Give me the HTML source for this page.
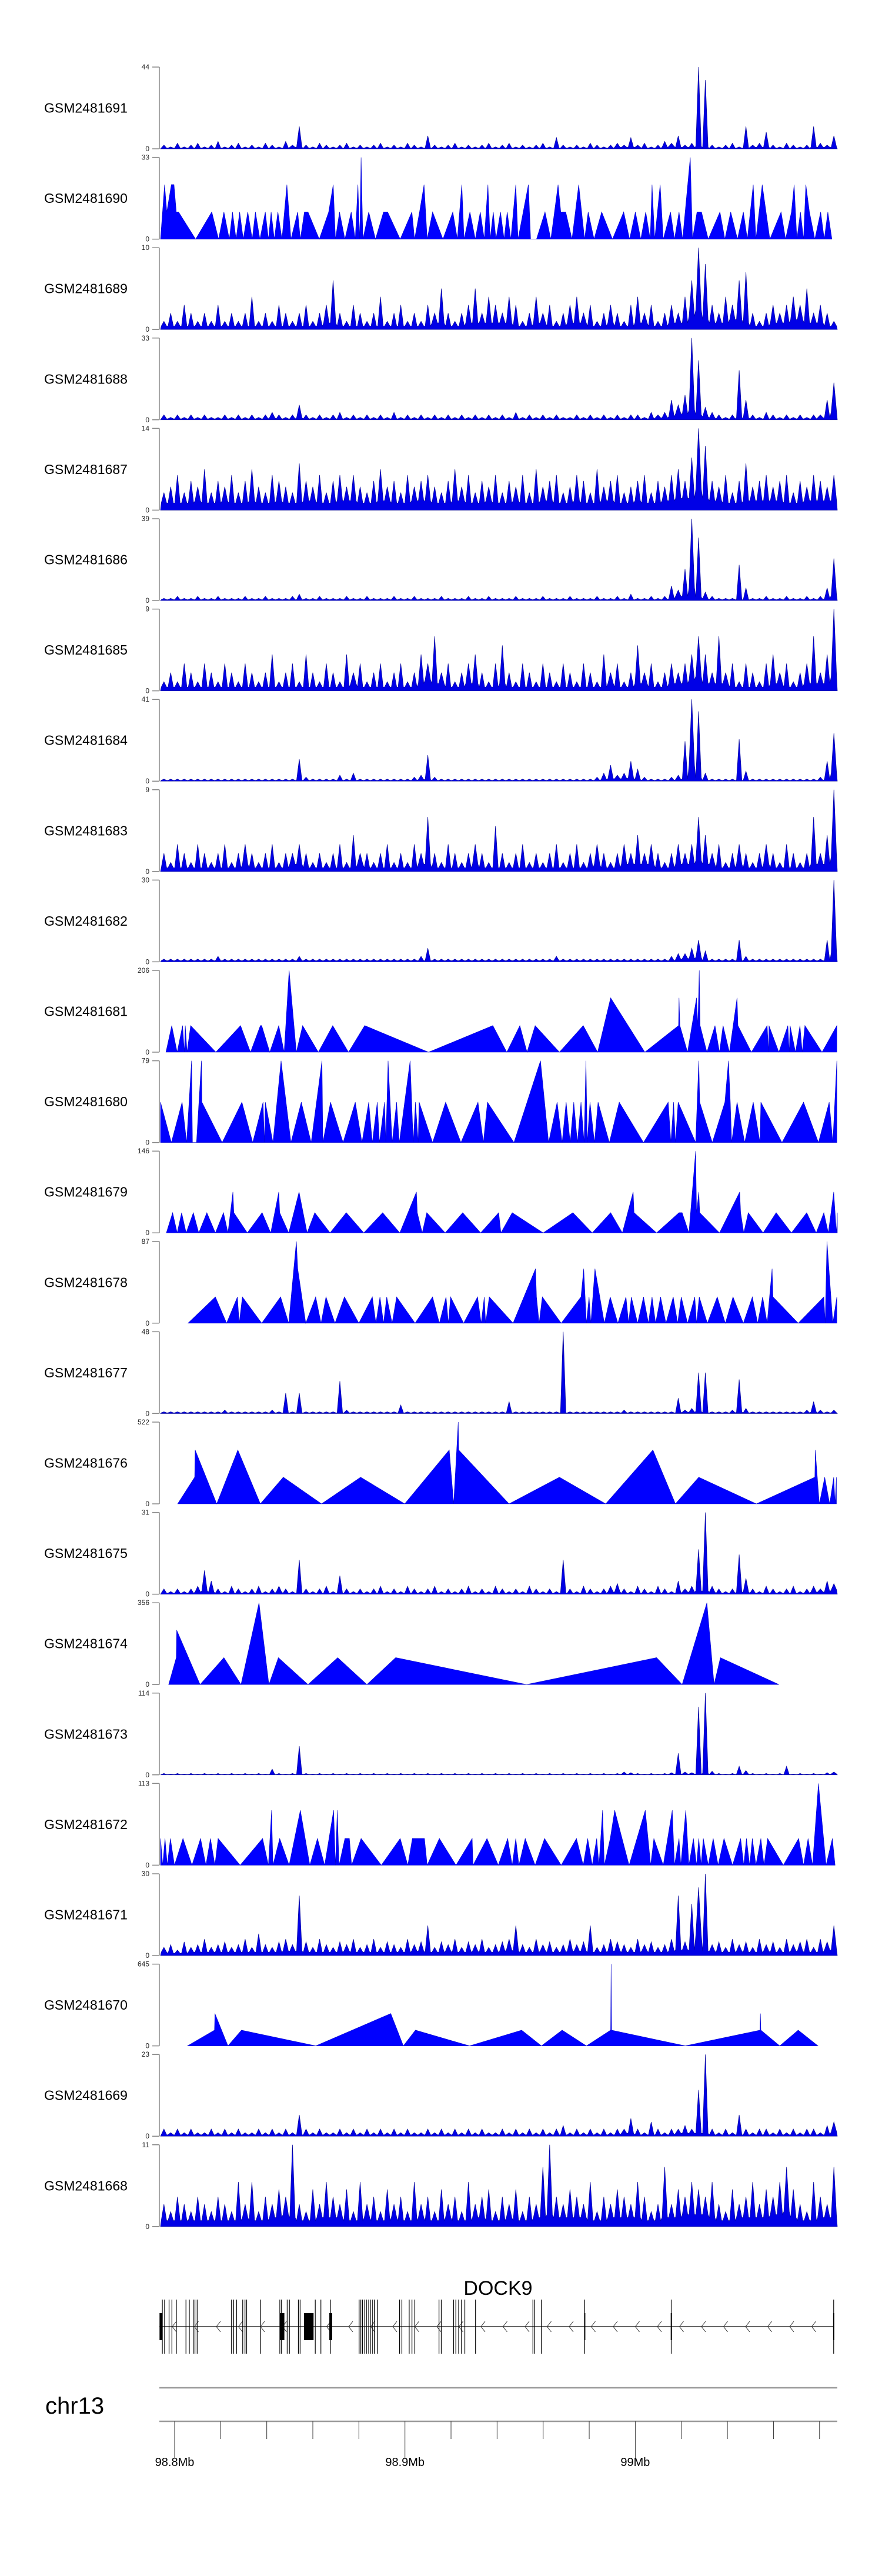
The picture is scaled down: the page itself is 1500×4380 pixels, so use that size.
<!DOCTYPE html>
<html><head><meta charset="utf-8"><title>Coverage tracks chr13 DOCK9</title>
<style>html,body{margin:0;padding:0;background:#fff}svg{display:block}text{font-family:"Liberation Sans",sans-serif}</style>
</head><body>
<svg id="chart" xmlns="http://www.w3.org/2000/svg" width="1500" height="4380" viewBox="0 0 1500 4380">
<rect x="0" y="0" width="1500" height="4380" fill="#fff"/>
<g id="tracks"></g>
<g id="gene"></g>
<g id="ruler"></g>
</svg>
<script>
// ---- data: sample names, y-axis maxima ----
const sampleNames = ["GSM2481691","GSM2481690","GSM2481689","GSM2481688","GSM2481687","GSM2481686","GSM2481685","GSM2481684","GSM2481683","GSM2481682","GSM2481681","GSM2481680","GSM2481679","GSM2481678","GSM2481677","GSM2481676","GSM2481675","GSM2481674","GSM2481673","GSM2481672","GSM2481671","GSM2481670","GSM2481669","GSM2481668"];
const yMaxLabels = [44,33,10,33,14,39,9,41,9,30,206,79,146,87,48,522,31,356,114,113,30,645,23,11];

// binned coverage (100 equal bins across region)
const v691 = [2,1,3,1,2,3,1,2,4,1,2,3,1,2,1,3,2,1,4,2,12,2,1,3,2,1,2,3,1,2,1,2,3,1,2,1,3,2,1,7,2,1,2,3,1,2,1,2,3,1,2,3,1,2,1,2,3,1,6,2,1,2,1,3,2,1,2,3,2,6,2,3,1,2,4,3,7,2,3,44,37,2,1,2,3,1,12,2,3,9,2,1,3,2,1,2,12,3,2,7];
const v689 = [1,2,1,3,2,1,2,1,3,1,2,1,2,4,1,2,1,3,2,1,2,3,1,2,3,6,2,1,3,2,1,2,4,1,2,3,1,2,1,3,2,5,2,1,2,3,5,2,4,3,2,4,3,1,2,4,2,3,1,2,3,4,2,3,1,2,3,2,1,3,4,2,3,1,2,3,2,4,6,10,8,3,2,4,3,6,7,2,1,2,3,2,3,4,3,5,2,3,2,1];
const v688 = [2,1,2,1,2,1,2,1,1,2,1,2,1,2,1,2,3,2,1,2,6,2,1,2,1,2,3,1,2,1,2,1,2,1,3,1,2,1,2,1,2,1,2,1,2,1,2,1,2,1,2,1,3,1,2,1,2,1,2,1,1,2,1,2,1,2,1,2,1,2,2,1,3,2,3,8,6,10,33,24,5,3,2,1,2,20,8,2,1,3,2,1,2,1,2,1,2,2,8,15];
const v687 = [3,4,6,3,5,4,7,3,5,4,6,3,5,7,4,3,6,5,4,3,8,5,4,6,3,5,6,4,6,4,3,5,7,4,5,3,6,4,5,6,4,3,5,7,4,6,3,5,4,6,3,5,4,6,3,7,4,5,6,3,4,6,5,3,7,4,5,6,3,4,5,6,3,5,4,6,7,5,9,14,11,5,4,6,3,5,8,4,5,6,4,5,6,3,5,4,6,5,4,6];
const v686 = [1,1,2,1,1,2,1,1,2,1,1,1,2,1,1,2,1,1,1,2,3,1,1,2,1,1,1,2,1,1,2,1,1,1,2,1,1,2,1,1,1,2,1,1,1,2,1,1,2,1,1,1,2,1,1,1,2,1,1,1,2,1,1,1,2,1,1,2,1,3,1,1,2,1,2,7,5,15,39,30,4,2,1,1,1,17,6,1,1,2,1,1,2,1,1,2,1,2,6,20];
const v685 = [1,2,1,3,2,1,3,2,1,3,2,1,3,2,1,2,4,1,2,3,1,4,2,1,3,2,1,4,2,3,1,2,3,1,2,3,1,2,4,3,6,2,3,1,2,3,4,2,1,3,5,2,1,3,2,1,3,2,1,3,2,1,3,2,1,4,2,3,1,2,5,2,3,1,2,3,2,3,4,6,4,2,6,2,3,1,3,2,1,3,4,2,3,1,2,3,6,2,4,9];
const v684 = [1,1,1,1,1,1,1,1,1,1,1,1,1,1,1,1,1,1,1,1,11,2,1,1,1,1,3,1,4,1,1,1,1,1,1,1,1,2,3,13,2,1,1,1,1,1,1,1,1,1,1,1,1,1,1,1,1,1,1,1,1,1,1,1,2,4,8,3,4,10,6,2,1,1,1,2,3,20,41,35,4,1,1,1,1,21,5,1,1,1,1,1,1,1,1,1,1,2,10,24];
const v683 = [2,1,3,2,1,3,2,1,2,3,1,2,3,2,1,2,3,1,2,2,3,2,1,2,1,2,3,1,4,2,2,1,2,3,1,2,1,3,2,6,2,1,3,2,1,2,3,2,1,5,2,1,2,3,1,2,1,2,3,1,2,3,1,2,3,2,1,2,3,2,4,2,3,2,1,2,3,2,3,6,4,2,3,1,2,3,2,1,2,3,2,1,3,2,1,2,6,2,4,9];
const v682 = [1,1,1,1,1,1,1,1,2,1,1,1,1,1,1,1,1,1,1,1,2,1,1,1,1,1,1,1,1,1,1,1,1,1,1,1,1,1,2,5,1,1,1,1,1,1,1,1,1,1,1,1,1,1,1,1,1,1,2,1,1,1,1,1,1,1,1,1,1,1,1,1,1,1,1,2,3,3,5,8,4,1,1,1,1,8,2,1,1,1,1,1,1,1,1,1,1,1,8,30];
const v677 = [1,1,1,1,1,1,1,1,1,2,1,1,1,1,1,1,2,1,12,1,12,1,1,1,1,1,19,2,1,1,1,1,1,1,1,5,1,1,1,1,1,1,1,1,1,1,1,1,1,1,1,7,1,1,1,1,1,1,1,48,1,1,1,1,1,1,1,1,2,1,1,1,1,1,1,1,9,2,3,24,24,1,1,1,2,20,3,1,1,1,1,1,1,1,1,2,7,2,1,2];
const v675 = [2,1,2,1,2,3,9,5,2,1,3,2,1,2,3,1,2,3,2,1,13,2,1,2,3,1,7,2,1,2,1,2,3,1,2,1,3,2,1,2,3,1,2,1,2,3,1,2,1,3,2,1,2,1,3,2,1,2,1,13,2,1,3,2,1,2,3,4,2,1,3,2,1,3,2,1,5,2,3,17,31,3,2,1,2,15,6,2,1,3,2,1,2,3,1,2,3,2,5,4];
const v673 = [2,1,2,1,2,1,2,1,2,1,2,1,2,1,2,1,8,2,1,2,40,2,1,2,1,2,1,2,1,2,1,2,1,2,1,2,1,2,1,2,1,2,1,2,1,2,1,2,1,2,1,2,1,2,1,2,1,2,1,2,1,2,1,2,1,2,1,2,4,3,2,1,2,1,2,3,30,4,3,95,114,5,2,1,2,12,6,2,1,2,1,2,12,1,2,1,2,1,3,4];
const v671 = [3,4,2,5,3,4,6,3,4,5,3,4,6,3,8,4,3,5,6,4,22,5,3,6,4,3,5,4,6,3,4,6,3,5,4,3,6,4,5,11,3,5,4,6,3,5,4,6,3,4,5,6,11,4,3,6,4,5,3,4,6,4,5,11,3,4,6,5,4,3,6,4,5,3,4,6,22,5,19,25,30,4,5,3,6,4,5,3,6,4,5,3,6,4,5,6,3,6,5,11];
const v669 = [2,1,2,1,2,1,1,2,1,2,1,2,1,1,2,1,2,1,2,1,6,2,1,2,1,1,2,1,2,1,2,1,2,1,2,1,2,1,1,2,1,2,1,2,1,2,1,2,1,1,2,1,2,1,2,1,2,1,2,3,1,2,1,2,1,2,1,2,2,5,2,1,4,2,1,2,2,3,2,13,23,2,1,2,1,6,2,1,2,2,1,2,1,2,1,2,2,1,3,4];
const v668 = [3,2,4,3,2,4,3,2,4,3,2,6,3,6,2,4,3,5,4,11,3,2,5,3,6,4,3,5,2,6,3,4,2,5,3,4,2,6,3,4,2,5,3,4,2,6,3,4,5,2,4,3,5,2,4,3,8,11,4,3,5,4,3,6,2,4,3,5,4,3,6,4,2,3,8,3,5,4,6,5,4,6,3,2,5,3,4,6,3,5,4,6,8,5,3,2,6,4,3,8];

// sparse coverage vertices: [genomic bin (~195bp, region bins 15..1520), value]
const p690 = [[15,0],[24,22],[29,11],[39,22],[45,22],[50,11],[55,11],[93,0],[129,11],[144,0],[156,11],[168,0],[175,11],[183,0],[191,11],[199,0],[209,11],[219,0],[226,11],[236,0],[248,11],[255,0],[261,11],[268,0],[276,11],[285,0],[296,22],[305,0],[320,11],[326,0],[335,11],[343,11],[368,0],[389,11],[399,22],[404,0],[413,11],[425,0],[439,11],[448,0],[454,22],[458,0],[461,33],[465,0],[478,11],[493,0],[511,11],[520,11],[548,0],[574,11],[580,0],[591,11],[601,22],[608,0],[620,11],[643,0],[665,11],[675,0],[685,22],[690,0],[703,11],[715,0],[726,11],[735,0],[743,22],[748,0],[755,11],[761,0],[771,11],[779,0],[786,11],[794,0],[805,22],[810,0],[833,22],[838,0],[851,0],[870,11],[883,0],[891,11],[899,22],[905,11],[916,11],[930,0],[945,22],[958,0],[966,11],[979,0],[996,11],[1020,0],[1045,11],[1058,0],[1071,11],[1083,0],[1094,11],[1104,0],[1108,22],[1114,0],[1126,22],[1133,0],[1149,11],[1158,0],[1168,11],[1176,0],[1193,33],[1198,0],[1208,11],[1218,11],[1233,0],[1259,11],[1270,0],[1283,11],[1298,0],[1311,11],[1320,0],[1333,22],[1339,0],[1353,22],[1370,0],[1395,11],[1405,0],[1418,11],[1424,22],[1430,0],[1438,11],[1445,0],[1450,22],[1458,11],[1470,0],[1483,11],[1491,0],[1499,11],[1508,0]];
const p681 = [[27,0],[40,67],[52,0],[64,67],[68,0],[70,67],[74,0],[82,67],[138,0],[193,67],[215,0],[237,67],[240,67],[258,0],[278,67],[290,0],[301,206],[317,0],[331,67],[366,0],[398,67],[433,0],[469,67],[611,0],[754,67],[785,0],[814,67],[830,0],[848,67],[902,0],[955,67],[987,0],[1016,137],[1092,0],[1167,67],[1168,137],[1170,67],[1187,0],[1207,137],[1210,67],[1213,206],[1215,67],[1230,0],[1248,67],[1258,0],[1266,67],[1280,0],[1297,137],[1299,67],[1329,0],[1364,67],[1367,0],[1368,67],[1390,0],[1410,67],[1413,0],[1415,67],[1427,0],[1437,67],[1442,0],[1448,67],[1486,0],[1519,67]];
const p680 = [[15,39],[39,0],[63,39],[73,0],[84,79],[86,0],[95,0],[106,79],[107,39],[152,0],[196,39],[220,0],[243,39],[246,0],[248,39],[265,0],[283,79],[305,0],[328,39],[350,0],[374,79],[376,0],[393,39],[421,0],[448,39],[463,0],[478,39],[486,0],[497,39],[502,0],[513,39],[516,0],[521,79],[530,0],[540,39],[546,0],[570,79],[577,0],[582,39],[588,0],[590,39],[620,0],[649,39],[683,0],[721,39],[733,0],[742,39],[801,0],[860,79],[878,0],[897,39],[908,0],[917,39],[926,0],[934,39],[942,0],[950,39],[957,0],[961,79],[964,0],[970,39],[980,0],[988,39],[1013,0],[1035,39],[1089,0],[1144,39],[1150,0],[1156,39],[1160,0],[1166,39],[1205,0],[1212,79],[1214,39],[1242,0],[1270,39],[1278,79],[1282,39],[1285,0],[1297,39],[1314,0],[1333,39],[1348,0],[1350,39],[1397,0],[1445,39],[1478,0],[1502,39],[1510,0],[1519,79]];
const p679 = [[28,0],[42,36],[52,0],[62,36],[72,0],[88,36],[100,0],[118,36],[137,0],[155,36],[165,0],[176,73],[178,36],[208,0],[241,36],[260,0],[278,73],[280,36],[300,0],[323,73],[341,0],[358,36],[392,0],[428,36],[467,0],[509,36],[547,0],[584,73],[586,36],[597,0],[607,36],[648,0],[687,36],[727,0],[767,36],[772,0],[797,36],[866,0],[932,36],[975,0],[1016,36],[1042,0],[1066,73],[1068,36],[1118,0],[1168,36],[1175,36],[1190,0],[1205,146],[1207,36],[1212,73],[1214,36],[1258,0],[1303,73],[1305,36],[1312,0],[1322,36],[1355,0],[1384,36],[1418,0],[1452,36],[1473,0],[1490,36],[1500,0],[1512,73],[1518,0],[1520,36]];
const p678 = [[76,0],[137,28],[162,0],[186,28],[190,0],[197,28],[240,0],[282,28],[300,0],[317,87],[320,58],[338,0],[360,28],[372,0],[383,28],[403,0],[424,28],[456,0],[486,28],[494,0],[503,28],[511,0],[518,28],[530,0],[540,28],[581,0],[620,28],[635,0],[650,28],[655,0],[660,28],[689,0],[720,28],[728,0],[735,28],[738,0],[746,28],[799,0],[849,58],[851,28],[857,0],[864,28],[906,0],[950,28],[956,58],[962,0],[968,28],[972,0],[981,58],[1002,0],[1015,28],[1032,0],[1050,28],[1056,0],[1062,28],[1076,0],[1089,28],[1100,0],[1108,28],[1116,0],[1127,28],[1139,0],[1155,28],[1165,0],[1173,28],[1187,0],[1203,28],[1207,0],[1213,28],[1231,0],[1253,28],[1271,0],[1288,28],[1311,0],[1331,28],[1343,0],[1354,28],[1364,0],[1375,58],[1377,28],[1433,0],[1490,28],[1493,0],[1497,87],[1510,0],[1519,28]];
const p676 = [[53,0],[91,170],[92,344],[140,0],[187,344],[237,0],[288,170],[373,0],[460,170],[558,0],[657,344],[667,0],[677,522],[678,344],[790,0],[902,170],[1005,0],[1110,344],[1160,0],[1212,170],[1340,0],[1470,170],[1471,344],[1480,0],[1492,170],[1503,0],[1512,170],[1515,0],[1518,170]];
const p674 = [[33,0],[50,117],[51,237],[103,0],[156,117],[194,0],[234,356],[256,0],[277,117],[343,0],[409,117],[474,0],[538,117],[829,0],[1118,117],[1175,0],[1230,356],[1246,0],[1260,117],[1390,0]];
const p672 = [[15,37],[20,0],[25,37],[30,0],[37,37],[46,0],[65,37],[85,0],[104,37],[116,0],[126,37],[136,0],[143,37],[192,0],[242,37],[255,0],[262,76],[265,0],[280,37],[301,0],[326,76],[347,0],[364,37],[380,0],[400,76],[404,0],[408,76],[412,0],[425,37],[435,37],[440,0],[461,37],[506,0],[548,37],[565,0],[575,37],[590,37],[602,37],[608,0],[635,37],[672,0],[708,37],[710,0],[741,37],[766,0],[787,37],[797,0],[805,37],[812,0],[826,37],[848,0],[869,37],[906,0],[940,37],[955,0],[965,37],[975,0],[985,37],[990,0],[998,76],[1002,0],[1015,37],[1025,76],[1057,0],[1093,76],[1105,0],[1112,37],[1133,0],[1153,76],[1158,0],[1168,37],[1172,0],[1183,76],[1190,0],[1200,37],[1207,0],[1212,37],[1217,0],[1222,37],[1233,0],[1244,37],[1255,0],[1268,37],[1287,0],[1305,37],[1312,0],[1318,37],[1325,0],[1331,37],[1339,0],[1350,37],[1357,0],[1365,37],[1400,0],[1434,37],[1445,0],[1455,37],[1465,0],[1478,113],[1495,0],[1509,37],[1515,0]];
const p670 = [[75,0],[135,124],[136,255],[165,0],[195,124],[360,0],[527,255],[555,0],[582,124],[702,0],[818,124],[862,0],[908,124],[962,0],[1016,124],[1017,645],[1018,124],[1182,0],[1348,124],[1349,255],[1350,124],[1392,0],[1433,124],[1477,0]];

const trackData = [v691,p690,v689,v688,v687,v686,v685,v684,v683,v682,p681,p680,p679,p678,v677,p676,v675,p674,v673,p672,v671,p670,v669,v668];

// gene model (kb offset from 98.8 Mb)
const exonKb = [-5.34,-4.36,-2.42,-1.18,0.76,4.92,6.38,8.08,8.82,9.78,24.7,25.64,26.88,29.56,30.54,31.28,37.38,45.68,46.4,48.86,49.84,53.72,54.48,61.06,63.5,67.64,80.1,80.84,81.56,82.54,83.28,84.26,85,85.98,86.7,88.18,97.68,98.66,101.84,103.04,104.28,114.78,115.76,121.14,122.1,123.32,124.54,126,130.64,155.56,156.28,159.22,178,215.6,286.14];
const thickExonKb = [[-6.56,-5.3],[45.68,47.64],[56.16,60.32],[67.16,68.4],[177.8,178.3],[215.4,215.9],[285.9,286.4]];
const geneSpanKb = [-6.6,286.2];
const rulerTicksMb = [98.80,98.82,98.84,98.86,98.88,98.90,98.92,98.94,98.96,98.98,99.00,99.02,99.04,99.06,99.08];
const rulerLabels = [[98.8,"98.8Mb"],[98.9,"98.9Mb"],[99.0,"99Mb"]];

// ---- layout ----
const NS="http://www.w3.org/2000/svg";
const AX=271, X0=273, X1=1424, TOP0=114, STEP=153.6, H=139;
const xBin = b => X0+(b-15)/1505*(X1-X0);
const xMb = mb => 297+(mb-98.8)*3917;
const xKb = kb => xMb(98.8+kb/1000);
function mk(tag, attrs, parent){const e=document.createElementNS(NS,tag);for(const k in attrs)e.setAttribute(k,attrs[k]);parent.appendChild(e);return e;}

const tg=document.getElementById('tracks');
trackData.forEach((d,ti)=>{
  const top=TOP0+ti*STEP, base=top+H, max=yMaxLabels[ti];
  const yv=v=>base-v/max*H;
  const g=mk('g',{},tg);
  
  
  const lab=mk('text',{x:75,y:top+H/2+8,'font-size':23,fill:'#000'},g);
  lab.textContent=sampleNames[ti];
  
  
  const ax=mk('path',{d:`M${AX} ${top}V${base}M${AX} ${top}h-12M${AX} ${base}h-12`,stroke:'#888','stroke-width':1.5,fill:'none'},g);
  
  
  const tmax=mk('text',{x:254,y:top+4,'font-size':12,'text-anchor':'end',fill:'#222'},g);
  tmax.textContent=String(max);
  
  
  const t0=mk('text',{x:254,y:base+4,'font-size':12,'text-anchor':'end',fill:'#222'},g);
  t0.textContent='0';
  
  
  let dstr='';
  if(typeof d[0]==='number'){
    const n=d.length, w=(X1-X0)/n;
    dstr=`M${X0} ${base}`;
    for(let i=0;i<n;i++){
      const xl=X0+i*w, v=d[i];
      const lo=0.4*Math.min(v, d[Math.max(0,i-1)], d[Math.min(n-1,i+1)]);
      dstr+=`L${(xl+0.1*w).toFixed(1)} ${yv(lo).toFixed(1)}L${(xl+0.5*w).toFixed(1)} ${yv(v).toFixed(1)}L${(xl+0.9*w).toFixed(1)} ${yv(lo).toFixed(1)}`;
    }
    dstr+=`L${X1} ${base}Z`;
    const p=mk('path',{d:dstr,fill:'#0000e6',stroke:'#000099','stroke-width':0.7},g);
    
    
  } else {
    dstr=`M${xBin(d[0][0]).toFixed(1)} ${base}`;
    d.forEach(pt=>{dstr+=`L${xBin(pt[0]).toFixed(1)} ${yv(pt[1]).toFixed(1)}`;});
    dstr+=`L${xBin(d[d.length-1][0]).toFixed(1)} ${base}Z`;
    const p=mk('path',{d:dstr,fill:'#0000ff',stroke:'#0000cc','stroke-width':0.6},g);
    
    
  }
});

// ---- gene track ----
const gg=document.getElementById('gene');
const gl=mk('text',{x:847,y:3902,'font-size':34,'text-anchor':'middle',fill:'#000'},gg);
gl.textContent='DOCK9';


const gline=mk('line',{x1:xKb(geneSpanKb[0]),x2:xKb(geneSpanKb[1]),y1:3956,y2:3956,stroke:'#333','stroke-width':1.5},gg);


let chev='';
for(let x=296;x<1410;x+=37.5){chev+=`M${(x+4).toFixed(1)} 3947L${(x-3).toFixed(1)} 3956L${(x+4).toFixed(1)} 3965`;}
const cp=mk('path',{d:chev,stroke:'#333','stroke-width':1,fill:'none'},gg);


exonKb.forEach(k=>{
  const l=mk('line',{x1:xKb(k),x2:xKb(k),y1:3910,y2:4002,stroke:'#000','stroke-width':1.2},gg);
  
  
});
thickExonKb.forEach(r=>{
  const x=xKb(r[0]), w=Math.max(2,xKb(r[1])-x);
  const e=mk('rect',{x:x,y:3933,width:w,height:46,fill:'#000'},gg);
  
  
});

// ---- genome axis ----
const rg=document.getElementById('ruler');
const chr=mk('text',{x:77,y:4104,'font-size':40,fill:'#000'},rg);
chr.textContent='chr13';


const l1=mk('line',{x1:AX,x2:X1,y1:4060,y2:4060,stroke:'#999','stroke-width':2.5},rg);


const l2=mk('line',{x1:AX,x2:X1,y1:4117,y2:4117,stroke:'#999','stroke-width':2.5},rg);


rulerTicksMb.forEach(m=>{
  const major=rulerLabels.some(r=>Math.abs(r[0]-m)<1e-6);
  const t=mk('line',{x1:xMb(m),x2:xMb(m),y1:4117,y2:major?4180:4147,stroke:'#333','stroke-width':1},rg);
  
  
});
rulerLabels.forEach(r=>{
  const t=mk('text',{x:xMb(r[0]),y:4193,'font-size':20,'text-anchor':'middle',fill:'#000'},rg);
  t.textContent=r[1];
  
  
});
</script>
</body></html>
